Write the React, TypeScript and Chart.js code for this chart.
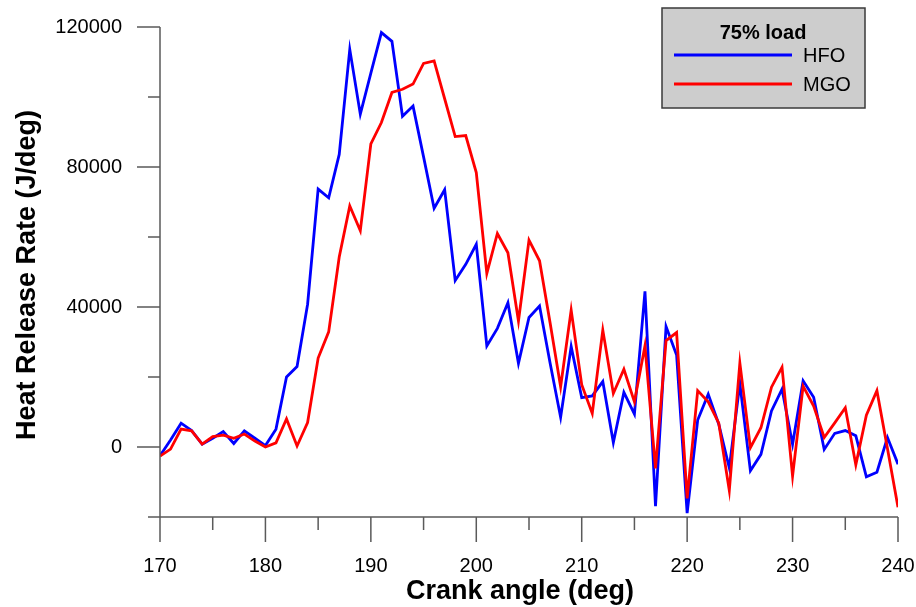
import React, { useEffect, useRef } from "react";
import { Chart, registerables } from "chart.js";

Chart.register(...registerables);

// Crank angle (deg), one sample per degree
const crankAngles = [
  170, 171, 172, 173, 174, 175, 176, 177, 178, 179,
  180, 181, 182, 183, 184, 185, 186, 187, 188, 189,
  190, 191, 192, 193, 194, 195, 196, 197, 198, 199,
  200, 201, 202, 203, 204, 205, 206, 207, 208, 209,
  210, 211, 212, 213, 214, 215, 216, 217, 218, 219,
  220, 221, 222, 223, 224, 225, 226, 227, 228, 229,
  230, 231, 232, 233, 234, 235, 236, 237, 238, 239,
  240,
];

// Heat release rate (J/deg), heavy fuel oil
const hfoRelease = [
  -2500, 2000, 6800, 4700, 800, 2500, 4400, 1000, 4600, 2500,
  400, 5100, 20000, 23000, 40800, 73700, 71200, 83600, 113600, 95100,
  106800, 118400, 115900, 94500, 97400, 82900, 68200, 73500, 47600, 52200,
  57900, 28900, 33900, 41200, 23900, 37000, 40300, 24000, 8500, 28700,
  14100, 14600, 18700, 1300, 15600, 9400, 44500, -16900, 34400, 26300,
  -18900, 7700, 15100, 6500, -6000, 18200, -6800, -2100, 10300, 16500,
  800, 18900, 14200, -700, 3900, 4700, 3200, -8500, -7200, 2700,
  -4900,
];

// Heat release rate (J/deg), marine gas oil
const mgoRelease = [
  -2600, -600, 5100, 4600, 800, 3000, 3400, 2500, 3700, 1700,
  0, 1200, 8000, 300, 7000, 25400, 32900, 54300, 68900, 61800,
  86600, 92700, 101300, 102200, 103700, 109600, 110300, 99500, 88700, 89000,
  78400, 49600, 61000, 55500, 36000, 59100, 53200, 35500, 17200, 39100,
  17800, 9600, 33400, 15300, 22200, 12900, 28900, -6100, 30400, 32700,
  -14700, 16100, 12900, 6800, -12400, 24000, -200, 5500, 17100, 22800,
  -8300, 17400, 11700, 2700, 6900, 11200, -5100, 9100, 16100, -400,
  -17200,
];

const xMajorTicks = [170, 180, 190, 200, 210, 220, 230, 240];
const xMinorTicks = [175, 185, 195, 205, 215, 225, 235];
const yMajorTicks = [0, 40000, 80000, 120000];
const yMinorTicks = [-20000, 20000, 60000, 100000];

const seriesNames = ["HFO", "MGO"];
const legendTitle = "75% load";
const xTitle = "Crank angle (deg)";
const yTitle = "Heat Release Rate (J/deg)";

const FONT = "'Liberation Sans', Arial, sans-serif";
const AXIS_COLOR = "#5a5a5a";
const HFO_COLOR = "#0000ff";
const MGO_COLOR = "#ff0000";
const LINE_WIDTH = 2.8;

// Axis lines, tick marks, tick labels, titles and the boxed legend
const decorPlugin = {
  id: "decor",
  afterDraw(chart: any) {
    const { ctx, chartArea, scales } = chart;
    const xs = scales.x;
    const ys = scales.y;
    const { left, right, top, bottom } = chartArea;
    ctx.save();
    ctx.strokeStyle = AXIS_COLOR;
    ctx.lineWidth = 1.5;
    ctx.beginPath();
    ctx.moveTo(left, top);
    ctx.lineTo(left, bottom);
    ctx.moveTo(left, bottom);
    ctx.lineTo(right, bottom);
    for (const v of yMajorTicks) {
      const p = ys.getPixelForValue(v);
      ctx.moveTo(left - 23, p);
      ctx.lineTo(left, p);
    }
    for (const v of yMinorTicks) {
      const p = ys.getPixelForValue(v);
      ctx.moveTo(left - 12, p);
      ctx.lineTo(left, p);
    }
    for (const v of xMajorTicks) {
      const p = xs.getPixelForValue(v);
      ctx.moveTo(p, bottom);
      ctx.lineTo(p, bottom + 25);
    }
    for (const v of xMinorTicks) {
      const p = xs.getPixelForValue(v);
      ctx.moveTo(p, bottom);
      ctx.lineTo(p, bottom + 13);
    }
    ctx.stroke();

    // tick labels
    ctx.fillStyle = "#000";
    ctx.font = `20px ${FONT}`;
    ctx.textBaseline = "middle";
    ctx.textAlign = "center";
    for (const v of xMajorTicks) {
      ctx.fillText(String(v), xs.getPixelForValue(v), bottom + 49);
    }
    ctx.textAlign = "right";
    for (const v of yMajorTicks) {
      ctx.fillText(String(v), left - 38, ys.getPixelForValue(v));
    }

    // axis titles
    ctx.font = `bold 27px ${FONT}`;
    ctx.textAlign = "center";
    ctx.fillText(xTitle, 520, 592);
    ctx.save();
    ctx.translate(28, 275);
    ctx.rotate(-Math.PI / 2);
    ctx.fillText(yTitle, 0, 0);
    ctx.restore();

    // legend box
    const bx = 662, by = 8, bw = 203, bh = 100;
    ctx.fillStyle = "#cdcdcd";
    ctx.fillRect(bx, by, bw, bh);
    ctx.strokeStyle = "#3a3a3a";
    ctx.lineWidth = 1.5;
    ctx.strokeRect(bx, by, bw, bh);
    ctx.fillStyle = "#000";
    ctx.font = `bold 20px ${FONT}`;
    ctx.textAlign = "center";
    ctx.fillText(legendTitle, 763, 33);
    const rows = [
      { name: seriesNames[0], color: HFO_COLOR, y: 55 },
      { name: seriesNames[1], color: MGO_COLOR, y: 84 },
    ];
    ctx.lineWidth = LINE_WIDTH;
    ctx.font = `20px ${FONT}`;
    ctx.textAlign = "left";
    for (const r of rows) {
      ctx.strokeStyle = r.color;
      ctx.beginPath();
      ctx.moveTo(674, r.y);
      ctx.lineTo(792, r.y);
      ctx.stroke();
      ctx.fillStyle = "#000";
      ctx.fillText(r.name, 803, r.y + 1);
    }
    ctx.restore();
  },
};

export default function App() {
  const canvasRef = useRef<HTMLCanvasElement | null>(null);

  useEffect(() => {
    document.body.style.margin = "0";
    const canvas = canvasRef.current;
    if (!canvas) return;
    const toPoints = (vals: number[]) =>
      crankAngles.map((x, i) => ({ x, y: vals[i] }));

    const chart = new Chart(canvas, {
      type: "line",
      data: {
        datasets: [
          {
            label: seriesNames[0],
            data: toPoints(hfoRelease),
            borderColor: HFO_COLOR,
            borderWidth: LINE_WIDTH,
            pointRadius: 0,
            tension: 0,
            order: 1,
          },
          {
            label: seriesNames[1],
            data: toPoints(mgoRelease),
            borderColor: MGO_COLOR,
            borderWidth: LINE_WIDTH,
            pointRadius: 0,
            tension: 0,
            order: 0,
          },
        ],
      },
      options: {
        responsive: false,
        animation: false,
        devicePixelRatio: 1,
        layout: { padding: { top: 27, right: 18, left: 0, bottom: 0 } },
        plugins: {
          legend: { display: false },
          tooltip: { enabled: false },
        },
        scales: {
          x: {
            type: "linear",
            min: 170,
            max: 240,
            afterFit: (s: any) => {
              s.height = 90;
            },
            grid: { display: false, drawTicks: false },
            border: { display: false },
            ticks: { display: false, padding: 0 },
          },
          y: {
            type: "linear",
            min: -20000,
            max: 120000,
            afterFit: (s: any) => {
              s.width = 160;
            },
            grid: { display: false, drawTicks: false },
            border: { display: false },
            ticks: { display: false, padding: 0 },
          },
        },
      },
      plugins: [decorPlugin],
    });
    return () => chart.destroy();
  }, []);

  return (
    <div style={{ position: "absolute", left: 0, top: 0, width: 916, height: 607, background: "#fff" }}>
      <canvas ref={canvasRef} width={916} height={607} style={{ width: 916, height: 607, display: "block" }} />
    </div>
  );
}
